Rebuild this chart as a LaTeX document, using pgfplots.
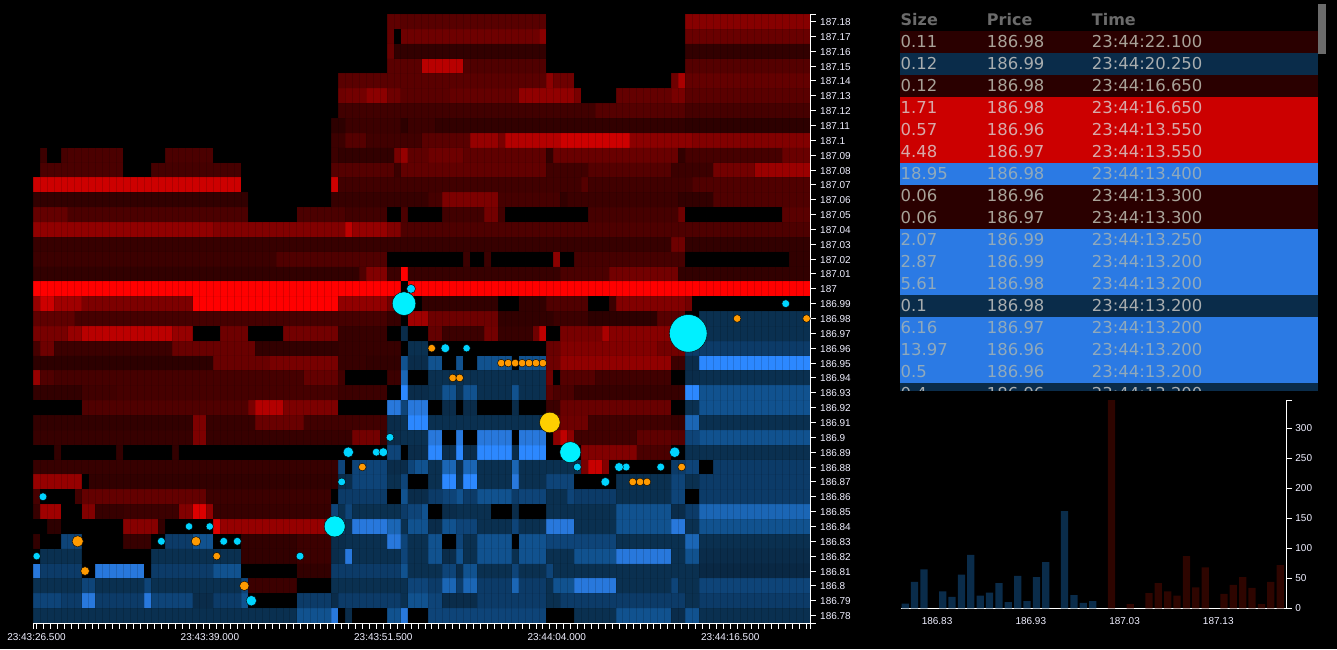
\documentclass[border=0pt]{standalone}
\usepackage{pgfplots}
\pgfplotsset{compat=1.18}
\usepackage{fontspec}
\setmainfont{Liberation Sans}
\newfontfamily\dv{DejaVu Sans}
\definecolor{B0}{HTML}{092844}
\definecolor{B1}{HTML}{0A3050}
\definecolor{B2}{HTML}{0A2C4A}
\definecolor{L1}{HTML}{0C3B68}
\definecolor{L2}{HTML}{0E4478}
\definecolor{L3}{HTML}{11528F}
\definecolor{L4}{HTML}{1B66B5}
\definecolor{L5}{HTML}{2878DC}
\definecolor{B5}{HTML}{2C88FF}
\definecolor{axtxt}{HTML}{F0F0FF}
\definecolor{tdred}{HTML}{2A0000}
\definecolor{tdblue}{HTML}{0A2C4A}
\definecolor{tred}{HTML}{CC0000}
\definecolor{tblue}{HTML}{2B7AE4}
\definecolor{cy}{HTML}{00D4FF}
\definecolor{cyb}{HTML}{00F0FF}
\definecolor{org}{HTML}{FF9A00}
\definecolor{gold}{HTML}{FFD000}
\definecolor{hdr}{HTML}{6B6B6B}
\newcommand\Rd[4]{\edef\tmp{\noexpand\addplot[forget plot,draw=none,fill={rgb,255:red,#4;green,0;blue,0}] coordinates {(#2,#1)(#3,#1)(#3,\the\numexpr#1+1\relax)(#2,\the\numexpr#1+1\relax)} --cycle;}\tmp}
\newcommand\Bl[4]{\edef\tmp{\noexpand\addplot[forget plot,draw=none,fill=#4] coordinates {(#2,#1)(#3,#1)(#3,\the\numexpr#1+1\relax)(#2,\the\numexpr#1+1\relax)} --cycle;}\tmp}
\newcommand\pts[3]{\addplot[only marks,mark=*,mark size=#2pt,mark options={fill=#1,draw=none}] coordinates {#3};}
\newcommand\trow[6]{%
 \fill[#5] (900pt,{649pt-(31pt+#1*22pt)}) rectangle (1318pt,{649pt-(53pt+#1*22pt)});
 \node[anchor=base west,inner sep=0pt,text=#6,font=\dv\fontsize{16.45}{18}\selectfont] at (900.5pt,{649pt-(47.7pt+#1*22pt)}) {#2};
 \node[anchor=base west,inner sep=0pt,text=#6,font=\dv\fontsize{16.45}{18}\selectfont] at (986.7pt,{649pt-(47.7pt+#1*22pt)}) {#3};
 \node[anchor=base west,inner sep=0pt,text=#6,font=\dv\fontsize{16.45}{18}\selectfont] at (1091.7pt,{649pt-(47.7pt+#1*22pt)}) {#4};}
\begin{document}
\begin{tikzpicture}
\path[use as bounding box] (0,0) rectangle (1337pt,649pt);
\fill[black] (0,0) rectangle (1337pt,649pt);
\begin{axis}[at={(33pt,26pt)},anchor=south west,scale only axis,width=777pt,height=609pt,
 xmin=0,xmax=112,ymin=0,ymax=41,axis on top,axis line style={draw=none},
 xtick={0,1,...,112},ytick={0,1,...,41},xticklabels={},yticklabels={},
 xmajorgrids,ymajorgrids,major tick length=0pt,tick style={draw=none},
 x grid style={black,opacity=.14,line width=.5pt},y grid style={black,opacity=.05,line width=.5pt}]
% p=40
\Rd{40}{51}{53}{95}\Rd{40}{53}{74}{88}\Rd{40}{94}{112}{135}
\Rd{39}{51}{52}{100}\Rd{39}{53}{73}{110}\Rd{39}{73}{74}{135}\Rd{39}{94}{112}{105}
\Rd{38}{51}{52}{105}\Rd{38}{52}{74}{50}\Rd{38}{94}{112}{50}
\Rd{37}{51}{56}{90}\Rd{37}{56}{62}{185}\Rd{37}{62}{74}{80}\Rd{37}{94}{112}{85}
\Rd{36}{44}{74}{90}\Rd{36}{74}{75}{140}\Rd{36}{75}{78}{110}\Rd{36}{92}{93}{110}\Rd{36}{93}{94}{170}\Rd{36}{94}{112}{100}
\Rd{35}{44}{45}{110}\Rd{35}{45}{48}{115}\Rd{35}{48}{51}{140}\Rd{35}{51}{53}{110}\Rd{35}{53}{60}{90}\Rd{35}{60}{70}{100}\Rd{35}{70}{78}{145}\Rd{35}{78}{79}{120}\Rd{35}{84}{92}{100}\Rd{35}{92}{94}{120}\Rd{35}{94}{112}{90}
\Rd{34}{44}{81}{65}\Rd{34}{81}{94}{85}\Rd{34}{94}{112}{70}
\Rd{33}{43}{45}{45}\Rd{33}{45}{53}{60}\Rd{33}{53}{54}{45}\Rd{33}{54}{58}{60}\Rd{33}{58}{94}{50}\Rd{33}{94}{112}{45}
\Rd{32}{43}{45}{60}\Rd{32}{45}{48}{85}\Rd{32}{48}{56}{65}\Rd{32}{56}{63}{90}\Rd{32}{63}{67}{150}\Rd{32}{67}{68}{120}\Rd{32}{68}{76}{180}\Rd{32}{76}{86}{205}\Rd{32}{86}{95}{140}\Rd{32}{95}{112}{130}
\Rd{31}{1}{2}{60}\Rd{31}{4}{5}{70}\Rd{31}{5}{13}{75}\Rd{31}{19}{26}{75}\Rd{31}{43}{44}{60}\Rd{31}{44}{52}{50}\Rd{31}{52}{53}{120}\Rd{31}{53}{54}{150}\Rd{31}{54}{57}{95}\Rd{31}{57}{62}{110}\Rd{31}{62}{74}{95}\Rd{31}{74}{75}{50}\Rd{31}{75}{93}{105}\Rd{31}{93}{94}{50}\Rd{31}{94}{108}{70}\Rd{31}{108}{112}{105}
\Rd{30}{1}{13}{75}\Rd{30}{17}{30}{70}\Rd{30}{43}{52}{85}\Rd{30}{52}{53}{60}\Rd{30}{53}{74}{98}\Rd{30}{74}{80}{65}\Rd{30}{80}{92}{85}\Rd{30}{92}{98}{60}\Rd{30}{98}{104}{115}\Rd{30}{104}{112}{155}
\Rd{29}{0}{30}{205}\Rd{29}{43}{44}{205}\Rd{29}{44}{79}{65}\Rd{29}{79}{80}{85}\Rd{29}{80}{95}{65}\Rd{29}{95}{112}{80}
\Rd{28}{0}{31}{50}\Rd{28}{43}{57}{55}\Rd{28}{57}{59}{70}\Rd{28}{59}{67}{125}\Rd{28}{67}{76}{70}\Rd{28}{76}{77}{50}\Rd{28}{77}{93}{60}\Rd{28}{93}{98}{50}\Rd{28}{98}{112}{80}
\Rd{27}{0}{5}{100}\Rd{27}{5}{31}{75}\Rd{27}{38}{45}{75}\Rd{27}{45}{51}{65}\Rd{27}{53}{54}{75}\Rd{27}{59}{65}{65}\Rd{27}{65}{67}{115}\Rd{27}{67}{68}{65}\Rd{27}{80}{93}{70}\Rd{27}{93}{94}{110}\Rd{27}{108}{112}{90}
\Rd{26}{0}{26}{145}\Rd{26}{26}{45}{130}\Rd{26}{45}{46}{190}\Rd{26}{46}{51}{150}\Rd{26}{51}{53}{130}\Rd{26}{53}{112}{78}
\Rd{25}{0}{92}{55}\Rd{25}{92}{94}{110}\Rd{25}{94}{112}{50}
\Rd{24}{0}{35}{60}\Rd{24}{35}{51}{80}\Rd{24}{62}{63}{60}\Rd{24}{65}{66}{60}\Rd{24}{75}{76}{140}\Rd{24}{78}{94}{70}\Rd{24}{109}{112}{50}
\Rd{23}{0}{47}{50}\Rd{23}{47}{48}{80}\Rd{23}{48}{51}{130}\Rd{23}{51}{53}{60}\Rd{23}{53}{54}{255}\Rd{23}{54}{76}{55}\Rd{23}{76}{83}{75}\Rd{23}{83}{93}{115}\Rd{23}{93}{112}{50}
\Rd{22}{0}{53}{255}\Rd{22}{54}{112}{255}
\Rd{21}{0}{1}{150}\Rd{21}{1}{3}{205}\Rd{21}{3}{7}{160}\Rd{21}{7}{23}{125}\Rd{21}{23}{44}{255}\Rd{21}{44}{51}{145}\Rd{21}{51}{53}{115}\Rd{21}{56}{67}{50}\Rd{21}{70}{74}{50}\Rd{21}{74}{80}{80}\Rd{21}{83}{84}{60}\Rd{21}{84}{94}{130}\Rd{21}{94}{95}{115}
\Rd{20}{0}{6}{95}\Rd{20}{6}{51}{70}\Rd{20}{51}{53}{55}\Rd{20}{54}{57}{160}\Rd{20}{57}{67}{110}\Rd{20}{67}{75}{50}\Rd{20}{75}{80}{60}\Rd{20}{80}{90}{45}\Rd{20}{90}{94}{88}\Bl{20}{96}{112}{B1}
\Rd{19}{0}{5}{120}\Rd{19}{5}{7}{150}\Rd{19}{7}{10}{185}\Rd{19}{10}{20}{188}\Rd{19}{20}{23}{150}\Rd{19}{27}{31}{110}\Rd{19}{36}{44}{115}\Rd{19}{44}{51}{55}\Bl{19}{53}{54}{B2}\Rd{19}{57}{59}{100}\Rd{19}{59}{65}{60}\Rd{19}{65}{67}{115}\Rd{19}{67}{72}{55}\Rd{19}{72}{73}{110}\Rd{19}{73}{74}{190}\Rd{19}{76}{82}{120}\Rd{19}{82}{83}{170}\Rd{19}{83}{94}{135}\Bl{19}{94}{112}{B1}
\Rd{18}{0}{1}{70}\Rd{18}{1}{3}{110}\Rd{18}{3}{20}{60}\Rd{18}{20}{32}{105}\Rd{18}{32}{44}{50}\Rd{18}{44}{53}{55}\Bl{18}{54}{57}{B1}\Rd{18}{74}{76}{105}\Rd{18}{76}{90}{130}\Rd{18}{90}{94}{115}\Bl{18}{94}{112}{L1}
\Rd{17}{0}{26}{45}\Rd{17}{26}{34}{105}\Rd{17}{34}{44}{120}\Rd{17}{44}{48}{55}\Rd{17}{48}{53}{50}\Bl{17}{53}{54}{L3}\Bl{17}{54}{57}{B2}\Bl{17}{57}{59}{L3}\Bl{17}{61}{62}{L3}\Bl{17}{64}{69}{L3}\Bl{17}{70}{74}{L3}\Rd{17}{74}{76}{110}\Rd{17}{76}{92}{145}\Rd{17}{92}{94}{60}\Bl{17}{94}{96}{B2}\Bl{17}{96}{112}{B5}
\Rd{16}{0}{1}{150}\Rd{16}{1}{3}{80}\Rd{16}{3}{39}{70}\Rd{16}{39}{44}{100}\Rd{16}{44}{45}{65}\Rd{16}{51}{53}{60}\Bl{16}{53}{54}{L4}\Bl{16}{57}{74}{B1}\Rd{16}{74}{75}{110}\Rd{16}{76}{81}{85}\Rd{16}{81}{92}{65}\Bl{16}{94}{96}{B2}\Bl{16}{96}{112}{B1}
\Rd{15}{0}{7}{50}\Rd{15}{7}{12}{65}\Rd{15}{12}{44}{70}\Rd{15}{44}{51}{60}\Bl{15}{53}{54}{B5}\Bl{15}{54}{57}{B2}\Bl{15}{57}{59}{B1}\Bl{15}{59}{61}{L3}\Bl{15}{61}{62}{B1}\Bl{15}{62}{64}{L3}\Bl{15}{64}{69}{B1}\Bl{15}{69}{70}{L3}\Bl{15}{70}{74}{B1}\Rd{15}{74}{75}{90}\Rd{15}{75}{78}{75}\Rd{15}{78}{94}{55}\Bl{15}{94}{96}{B5}\Bl{15}{96}{112}{L3}
\Rd{14}{7}{31}{80}\Rd{14}{31}{32}{120}\Rd{14}{32}{36}{180}\Rd{14}{36}{44}{125}\Bl{14}{51}{53}{L5}\Bl{14}{53}{54}{L2}\Bl{14}{54}{57}{L5}\Bl{14}{59}{61}{B2}\Bl{14}{62}{64}{B2}\Bl{14}{69}{70}{B2}\Rd{14}{74}{76}{60}\Rd{14}{76}{92}{105}\Bl{14}{94}{96}{B1}\Bl{14}{96}{112}{L3}
\Rd{13}{0}{23}{50}\Rd{13}{23}{25}{125}\Rd{13}{25}{32}{55}\Rd{13}{32}{39}{105}\Rd{13}{39}{51}{65}\Bl{13}{51}{53}{B2}\Bl{13}{53}{54}{B1}\Bl{13}{54}{57}{B5}\Bl{13}{57}{74}{B1}\Rd{13}{74}{76}{100}\Rd{13}{76}{80}{110}\Rd{13}{80}{92}{65}\Rd{13}{92}{94}{55}\Bl{13}{94}{96}{L4}\Bl{13}{96}{112}{B1}
\Rd{12}{0}{23}{55}\Rd{12}{23}{25}{125}\Rd{12}{25}{46}{55}\Rd{12}{46}{50}{115}\Rd{12}{50}{51}{55}\Bl{12}{51}{53}{B2}\Bl{12}{53}{57}{B1}\Bl{12}{57}{59}{L5}\Bl{12}{61}{62}{L5}\Bl{12}{64}{69}{L5}\Bl{12}{70}{74}{L5}\Rd{12}{75}{76}{140}\Rd{12}{76}{77}{190}\Rd{12}{77}{78}{140}\Rd{12}{78}{87}{65}\Rd{12}{87}{92}{95}\Rd{12}{92}{94}{85}\Bl{12}{94}{96}{L2}\Bl{12}{96}{112}{L3}
\Rd{11}{3}{4}{50}\Rd{11}{12}{13}{50}\Rd{11}{20}{21}{50}\Bl{11}{51}{53}{L2}\Bl{11}{54}{57}{B2}\Bl{11}{57}{59}{B5}\Bl{11}{59}{61}{B2}\Bl{11}{61}{62}{B5}\Bl{11}{62}{64}{B2}\Bl{11}{64}{69}{B5}\Bl{11}{69}{70}{B2}\Bl{11}{70}{74}{B5}\Rd{11}{79}{87}{130}\Rd{11}{87}{92}{75}\Bl{11}{94}{112}{B1}
\Rd{10}{0}{44}{55}\Bl{10}{44}{45}{L2}\Bl{10}{46}{51}{L2}\Bl{10}{51}{54}{B2}\Bl{10}{54}{55}{L2}\Bl{10}{55}{57}{L3}\Bl{10}{57}{59}{B1}\Bl{10}{59}{61}{L4}\Bl{10}{61}{62}{B2}\Bl{10}{62}{64}{L4}\Bl{10}{64}{69}{B1}\Bl{10}{69}{70}{L4}\Bl{10}{70}{79}{B1}\Rd{10}{79}{80}{120}\Rd{10}{80}{82}{200}\Rd{10}{82}{83}{130}\Bl{10}{92}{94}{L1}\Bl{10}{94}{96}{L2}\Bl{10}{98}{112}{L1}
\Rd{9}{0}{7}{150}\Rd{9}{8}{44}{50}\Bl{9}{44}{46}{B2}\Bl{9}{46}{51}{L2}\Bl{9}{51}{53}{B1}\Bl{9}{53}{54}{L2}\Bl{9}{57}{59}{B1}\Bl{9}{59}{61}{B5}\Bl{9}{61}{62}{B1}\Bl{9}{62}{64}{B5}\Bl{9}{64}{69}{B1}\Bl{9}{69}{70}{L5}\Bl{9}{70}{74}{B1}\Bl{9}{74}{78}{L2}\Bl{9}{84}{92}{B1}\Bl{9}{92}{94}{L2}\Bl{9}{94}{96}{B1}\Bl{9}{96}{112}{L1}
\Rd{8}{0}{1}{70}\Rd{8}{6}{7}{65}\Rd{8}{7}{25}{100}\Rd{8}{25}{43}{60}\Bl{8}{44}{51}{L1}\Bl{8}{53}{54}{L3}\Bl{8}{54}{57}{B2}\Bl{8}{57}{59}{L1}\Bl{8}{59}{61}{L2}\Bl{8}{61}{62}{L3}\Bl{8}{62}{64}{L1}\Bl{8}{64}{69}{L3}\Bl{8}{69}{70}{L1}\Bl{8}{70}{74}{L2}\Bl{8}{74}{77}{B1}\Bl{8}{77}{78}{L2}\Bl{8}{78}{84}{L1}\Bl{8}{84}{92}{B1}\Bl{8}{92}{94}{L2}\Bl{8}{96}{112}{L1}
\Rd{7}{0}{1}{55}\Rd{7}{1}{4}{160}\Rd{7}{7}{9}{130}\Rd{7}{9}{13}{55}\Rd{7}{13}{21}{60}\Rd{7}{21}{23}{130}\Rd{7}{23}{25}{220}\Rd{7}{25}{26}{145}\Rd{7}{26}{43}{55}\Bl{7}{43}{44}{L2}\Bl{7}{44}{45}{B1}\Bl{7}{45}{46}{L2}\Bl{7}{46}{53}{B1}\Bl{7}{53}{54}{L1}\Bl{7}{54}{56}{L2}\Bl{7}{56}{57}{L3}\Bl{7}{59}{61}{B2}\Bl{7}{61}{66}{B1}\Bl{7}{69}{70}{B2}\Bl{7}{74}{84}{B1}\Bl{7}{84}{92}{L3}\Bl{7}{92}{94}{B2}\Bl{7}{94}{96}{L1}\Bl{7}{96}{112}{L4}
\Rd{6}{2}{4}{45}\Rd{6}{13}{18}{135}\Rd{6}{18}{19}{50}\Rd{6}{26}{27}{220}\Rd{6}{27}{43}{150}\Bl{6}{43}{45}{L1}\Bl{6}{45}{46}{B1}\Bl{6}{46}{51}{L5}\Bl{6}{51}{53}{L4}\Bl{6}{53}{54}{B1}\Bl{6}{54}{57}{L3}\Bl{6}{57}{59}{B2}\Bl{6}{59}{61}{L3}\Bl{6}{61}{64}{L2}\Bl{6}{64}{69}{B1}\Bl{6}{69}{70}{L2}\Bl{6}{70}{74}{B1}\Bl{6}{74}{78}{L5}\Bl{6}{78}{84}{B1}\Bl{6}{84}{92}{L3}\Bl{6}{92}{94}{L5}\Bl{6}{94}{96}{B1}\Bl{6}{96}{112}{L3}
\Rd{5}{0}{1}{50}\Bl{5}{4}{7}{L2}\Rd{5}{13}{17}{55}\Bl{5}{19}{23}{L1}\Bl{5}{23}{26}{L3}\Rd{5}{30}{38}{50}\Rd{5}{38}{43}{60}\Bl{5}{43}{45}{B2}\Bl{5}{45}{51}{B1}\Bl{5}{51}{53}{L5}\Bl{5}{53}{54}{L2}\Bl{5}{54}{57}{B1}\Bl{5}{57}{59}{L3}\Bl{5}{61}{62}{L2}\Bl{5}{62}{64}{B1}\Bl{5}{64}{69}{L3}\Bl{5}{70}{74}{L3}\Bl{5}{74}{84}{L2}\Bl{5}{84}{94}{B1}\Bl{5}{94}{96}{L4}\Bl{5}{96}{112}{B1}
\Bl{4}{1}{7}{B1}\Bl{4}{17}{30}{B1}\Rd{4}{30}{38}{50}\Rd{4}{38}{43}{60}\Bl{4}{43}{44}{B2}\Bl{4}{44}{45}{B1}\Bl{4}{45}{46}{L5}\Bl{4}{46}{53}{B1}\Bl{4}{53}{54}{L2}\Bl{4}{54}{57}{B1}\Bl{4}{57}{59}{L3}\Bl{4}{59}{61}{B2}\Bl{4}{61}{62}{L3}\Bl{4}{62}{64}{B1}\Bl{4}{64}{69}{L3}\Bl{4}{69}{70}{B1}\Bl{4}{70}{74}{L3}\Bl{4}{74}{78}{B1}\Bl{4}{78}{84}{L3}\Bl{4}{84}{92}{L5}\Bl{4}{92}{94}{B1}\Bl{4}{94}{96}{L3}\Bl{4}{96}{112}{B2}
\Bl{3}{0}{1}{L5}\Bl{3}{1}{7}{L1}\Bl{3}{9}{16}{L5}\Bl{3}{17}{26}{L1}\Bl{3}{26}{30}{L3}\Rd{3}{38}{43}{50}\Bl{3}{43}{53}{L1}\Bl{3}{53}{54}{L3}\Bl{3}{54}{59}{B1}\Bl{3}{59}{61}{L2}\Bl{3}{61}{62}{B2}\Bl{3}{62}{64}{L3}\Bl{3}{64}{69}{B1}\Bl{3}{69}{70}{L2}\Bl{3}{70}{74}{B1}\Bl{3}{74}{75}{L2}\Bl{3}{75}{78}{B1}\Bl{3}{78}{96}{B1}\Bl{3}{96}{112}{B0}
\Bl{2}{0}{7}{B1}\Bl{2}{7}{9}{L2}\Bl{2}{9}{16}{B1}\Bl{2}{16}{17}{L2}\Bl{2}{17}{30}{B1}\Bl{2}{30}{31}{L2}\Rd{2}{31}{38}{60}\Bl{2}{43}{53}{B1}\Bl{2}{53}{54}{B1}\Bl{2}{54}{57}{L2}\Bl{2}{57}{59}{L1}\Bl{2}{59}{61}{L4}\Bl{2}{61}{62}{L1}\Bl{2}{62}{64}{L4}\Bl{2}{64}{69}{L1}\Bl{2}{69}{70}{L4}\Bl{2}{70}{74}{L1}\Bl{2}{74}{75}{B1}\Bl{2}{75}{78}{L3}\Bl{2}{78}{84}{L5}\Bl{2}{84}{92}{B1}\Bl{2}{92}{93}{L2}\Bl{2}{93}{96}{B1}\Bl{2}{96}{112}{L2}
\Bl{1}{0}{4}{L2}\Bl{1}{4}{7}{L1}\Bl{1}{7}{9}{L5}\Bl{1}{9}{16}{L1}\Bl{1}{16}{17}{L5}\Bl{1}{17}{23}{L2}\Bl{1}{23}{26}{B2}\Bl{1}{26}{30}{L1}\Bl{1}{30}{31}{L3}\Bl{1}{38}{43}{L1}\Bl{1}{43}{44}{B2}\Bl{1}{44}{53}{L1}\Bl{1}{53}{54}{B1}\Bl{1}{54}{57}{L3}\Bl{1}{57}{59}{L2}\Bl{1}{59}{64}{B2}\Bl{1}{64}{74}{L1}\Bl{1}{74}{76}{B1}\Bl{1}{76}{94}{L1}\Bl{1}{94}{96}{B1}\Bl{1}{96}{112}{L1}
\Bl{0}{0}{38}{B1}\Bl{0}{38}{43}{L3}\Bl{0}{43}{44}{L5}\Bl{0}{45}{46}{B2}\Bl{0}{51}{53}{L3}\Bl{0}{53}{54}{L5}\Bl{0}{57}{64}{L2}\Bl{0}{64}{74}{L2}\Bl{0}{78}{84}{B1}\Bl{0}{84}{92}{L3}\Bl{0}{92}{94}{B2}\Bl{0}{94}{96}{L3}\Bl{0}{96}{112}{B1}
\end{axis}
\begin{axis}[at={(33pt,26pt)},anchor=south west,scale only axis,width=777pt,height=609pt,
 xmin=0,xmax=112,ymin=0,ymax=41,clip=false,
 axis x line*=bottom,axis y line*=right,axis line style={white,line width=.9pt},
 tick align=outside,major tick length=5.5pt,minor tick length=5.5pt,tick style={white,line width=.9pt},
 xtick={0.5,25.5,50.5,75.5,100.5},
 xticklabels={23:43:26.500,23:43:39.000,23:43:51.500,23:44:04.000,23:44:16.500},
 minor xtick={0,0.5,1.5,2.5,...,111.5,112},
 ytick={0.5,1.5,...,40.5},
 yticklabels={186.78,186.79,186.8,186.81,186.82,186.83,186.84,186.85,186.86,186.87,186.88,186.89,186.9,186.91,186.92,186.93,186.94,186.95,186.96,186.97,186.98,186.99,187,187.01,187.02,187.03,187.04,187.05,187.06,187.07,187.08,187.09,187.1,187.11,187.12,187.13,187.14,187.15,187.16,187.17,187.18},
 minor ytick={0,41},
 ticklabel style={font=\fontsize{10}{12}\selectfont,text=axtxt},
 yticklabel style={inner sep=0pt,anchor=west,xshift=4.5pt,yshift=-.6pt},
 xticklabel style={inner sep=0pt,anchor=base,yshift=-11.5pt}]
\pts{cy}{3.9}{(1.44,8.5)(18.5,5.5)(27.49,5.5)(29.45,5.5)(38.49,4.5)(44.5,9.5)(49.48,11.5)(51.46,12.5)(78.46,10.5)(85.5,10.5)(90.48,10.5)(108.5,21.5)}
\pts{cy}{3.7}{(0.53,4.5)(22.49,6.5)(25.47,6.5)(62.5,18.5)}
\pts{cy}{4.4}{(54.49,22.5)(50.49,11.5)(59.43,18.5)(84.47,10.5)(82.5,9.5)}
\pts{cy}{5.2}{(45.45,11.5)(92.5,11.5)(31.47,1.5)}
\pts{cyb}{10.5}{(43.49,6.5)(77.45,11.5)}
\pts{cyb}{11.8}{(53.48,21.5)}
\pts{cyb}{18.8}{(94.45,19.5)}
\pts{org}{3.8}{(57.47,18.5)(26.48,4.5)(47.47,10.5)(60.5,16.5)(61.5,16.5)(67.5,17.5)(68.5,17.5)(69.5,17.5)(70.5,17.5)(71.5,17.5)(72.5,17.5)(73.5,17.5)(93.5,10.5)(86.45,9.5)(87.5,9.5)(88.5,9.5)(101.5,20.5)(111.5,20.5)}
\pts{org}{4.3}{(7.5,3.5)}
\pts{org}{4.7}{(23.5,5.5)(30.46,2.5)}
\pts{org}{5.6}{(6.44,5.5)}
\pts{gold}{10.3}{(74.5,13.5)}
\end{axis}
\begin{axis}[at={(900.5pt,40.7pt)},anchor=south west,scale only axis,width=386.2pt,height=208.3pt,
 xmin=-0.5,xmax=40.7,ymin=0,ymax=347,clip=false,
 axis x line*=bottom,axis y line*=right,axis line style={white,line width=.9pt},
 tick align=outside,major tick length=5.5pt,tick style={white,line width=.9pt},
 xtick={3.4,13.4,23.4,33.4},xticklabels={186.83,186.93,187.03,187.13},
 x tick style={draw=none},
 minor xtick={-0.5,0,1,...,40,40.7},minor tick length=5.5pt,
 ytick={0,50,100,150,200,250,300},yticklabels={0,50,100,150,200,250,300},minor ytick={347},
 minor tick style={white,line width=.9pt},
 ticklabel style={font=\fontsize{10}{12}\selectfont,text=axtxt},
 yticklabel style={inner sep=0pt,anchor=west,xshift=3pt},
 xticklabel style={inner sep=0pt,anchor=base,yshift=-11pt},
 ybar,bar width=7.3pt,bar shift=0pt]
\addplot[fill=B2,draw=none] coordinates {(0,8)(1,44)(2,65)(4,28)(5,19)(6,56)(7,89)(8,21)(9,26)(10,42)(11,10.5)(12,54)(13,12)(14,52)(15,77)(17,162)(18,22)(19,9)(20,12)};
\addplot[fill={rgb,255:red,46;green,5;blue,0},draw=none] coordinates {(22,347)(24,7)(26,25.5)(27,42)(28,28)(29,21)(30,87)(31,35)(32,68)(34,24)(35,39)(36,52)(37,34)(38,7)(39,44)(40,72)};
\end{axis}
% trade table
\fill[hdr] (1318pt,595pt) rectangle (1326pt,645pt);
\node[anchor=base west,inner sep=0pt,text=hdr,font=\dv\bfseries\fontsize{16}{18}\selectfont] at (900.5pt,623pt) {Size};
\node[anchor=base west,inner sep=0pt,text=hdr,font=\dv\bfseries\fontsize{16}{18}\selectfont] at (986.7pt,623pt) {Price};
\node[anchor=base west,inner sep=0pt,text=hdr,font=\dv\bfseries\fontsize{16}{18}\selectfont] at (1091.7pt,623pt) {Time};
\begin{scope}
\clip (900pt,259pt) rectangle (1318pt,620pt);
\definecolor{ta}{HTML}{A8ADAF}
\definecolor{tb}{HTML}{8FA9BC}
\definecolor{tc}{HTML}{D8A8A8}
\definecolor{td}{HTML}{A8A298}
\trow{0}{0.11}{186.98}{23:44:22.100}{tdred}{td}
\trow{1}{0.12}{186.99}{23:44:20.250}{tdblue}{ta}
\trow{2}{0.12}{186.98}{23:44:16.650}{tdred}{td}
\trow{3}{1.71}{186.98}{23:44:16.650}{tred}{tc}
\trow{4}{0.57}{186.96}{23:44:13.550}{tred}{tc}
\trow{5}{4.48}{186.97}{23:44:13.550}{tred}{tc}
\trow{6}{18.95}{186.98}{23:44:13.400}{tblue}{tb}
\trow{7}{0.06}{186.96}{23:44:13.300}{tdred}{td}
\trow{8}{0.06}{186.97}{23:44:13.300}{tdred}{td}
\trow{9}{2.07}{186.99}{23:44:13.250}{tblue}{tb}
\trow{10}{2.87}{186.99}{23:44:13.200}{tblue}{tb}
\trow{11}{5.61}{186.98}{23:44:13.200}{tblue}{tb}
\trow{12}{0.1}{186.98}{23:44:13.200}{tdblue}{ta}
\trow{13}{6.16}{186.97}{23:44:13.200}{tblue}{tb}
\trow{14}{13.97}{186.96}{23:44:13.200}{tblue}{tb}
\trow{15}{0.5}{186.96}{23:44:13.200}{tblue}{tb}
\trow{16}{0.4}{186.96}{23:44:13.200}{tdblue}{ta}
\end{scope}
\end{tikzpicture}
\end{document}
